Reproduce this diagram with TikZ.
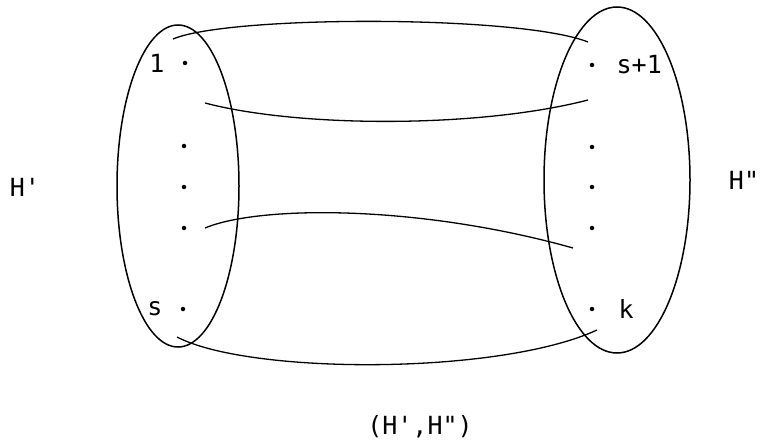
\documentclass[tikz,border=0pt]{standalone}
\usepackage{fontspec}
\usepackage{tikz}
\usetikzlibrary{positioning}
\newfontfamily\typefont{DejaVu Sans Mono}
\tikzset{
  setline/.style={line width=1.5pt},
  edgeline/.style={line width=1.3pt},
  vert/.style={circle,fill,inner sep=0pt,minimum size=4.5pt},
  lab/.style={font=\typefont\fontsize{25}{27}\selectfont,inner sep=0pt}
}

\begin{document}
\begin{tikzpicture}[x=1pt,y=-1pt]
  \useasboundingbox (0,0) rectangle (763,441);
  % the two halves
  \draw[setline] (178,186) ellipse [x radius=61,y radius=161];
  \draw[setline] (617,180) ellipse [x radius=73,y radius=173];
  % left vertices
  \node[vert] (l1) at (185,63) {};
  \node[vert] (la) at (184,146) {};
  \node[vert] (lb) at (184,187) {};
  \node[vert] (lc) at (184,228) {};
  \node[vert] (ls) at (183,309) {};
  \node[lab,left=18pt of l1] (n1) {1};
  \node[lab,left=18pt of ls] (ns) {s};
  % right vertices
  \node[vert] (r1) at (592,65) {};
  \node[vert] (ra) at (592,147) {};
  \node[vert] (rb) at (592,187) {};
  \node[vert] (rc) at (592,228) {};
  \node[vert] (rk) at (592,309) {};
  \node[lab,right=22pt of r1] (ns1) {s+1};
  \node[lab,right=24pt of rk] (nk) {k};
  % edge ends
  \coordinate (a1) at (173,39);  \coordinate (b1) at (588,42);
  \coordinate (a2) at (205,103); \coordinate (b2) at (588,100);
  \coordinate (a3) at (205,228); \coordinate (b3) at (573,248);
  \coordinate (a4) at (177,337); \coordinate (b4) at (597,330);
  \draw[edgeline] (a1) .. controls (230,15) and (520,15) .. (b1);
  \draw[edgeline] (a2) .. controls (300,128) and (480,128) .. (b2);
  \draw[edgeline] (a3) .. controls (260,205) and (420,205) .. (b3);
  \draw[edgeline] (a4) .. controls (250,375) and (500,375) .. (b4);
  % names
  \node[lab] (hl) at (25,187) {H'};
  \node[lab] (hr) at (744,180) {H"};
  \node[lab] (pair) at (420,427) {(H',H")};
\end{tikzpicture}
\end{document}
